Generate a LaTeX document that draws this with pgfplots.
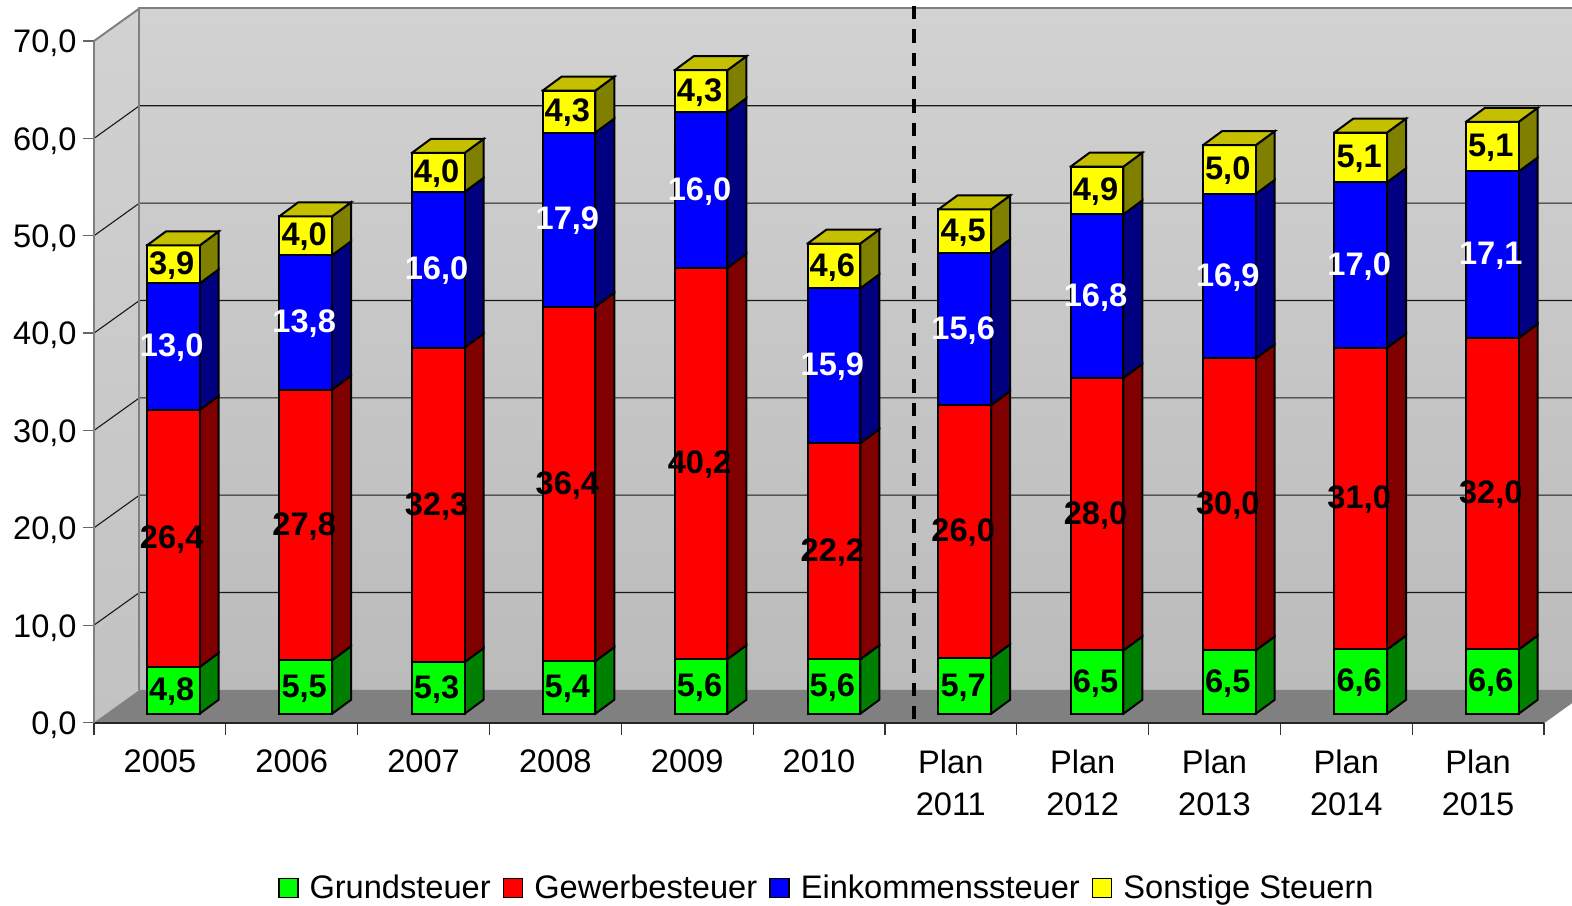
\documentclass[border=0pt]{standalone}
\usepackage{fontspec}
\setmainfont{Liberation Sans}
\usepackage{pgfplots}
\pgfplotsset{compat=1.18}
\definecolor{fgreen}{HTML}{00FF00}\definecolor{sgreen}{HTML}{008000}
\definecolor{fred}{HTML}{FF0000}\definecolor{sred}{HTML}{800000}
\definecolor{fblue}{HTML}{0000FF}\definecolor{sblue}{HTML}{000080}
\definecolor{fyel}{HTML}{FFFF00}\definecolor{syel}{HTML}{808000}\definecolor{tyel}{HTML}{C4C000}
\definecolor{wallT}{HTML}{D2D2D2}\definecolor{wallB}{HTML}{BBBBBB}
\definecolor{sideT}{HTML}{D2D2D2}\definecolor{sideB}{HTML}{C2C2C2}
\definecolor{floorc}{HTML}{808080}\definecolor{edgec}{HTML}{808080}
% geometry: 1 px = 0.5 pt; x unit 131.82 px per category, y unit 9.736 px per value
\newcommand\ddx{0.1442}  % bar depth in x units
\newcommand\ddy{1.438}   % bar depth in y units
\newcommand\bw{0.400}    % bar width in x units
\pgfplotsset{barline/.style={draw=black,line width=1pt,line join=miter,line cap=rect,forget plot}}
\tikzset{lbl/.style={font=\bfseries\fontsize{16.3}{18}\selectfont,anchor=center,inner sep=0pt,text height=11.6pt,text depth=0pt}}
% #1 left px, #2 base, #3 value, #4 front, #5 side, #6 label colour
\newcommand\seg[6]{%
  \pgfmathsetmacro\xa{(#1-94)/131.82}%
  \pgfmathsetmacro\xb{\xa+\bw}%
  \pgfmathsetmacro\xc{\xb+\ddx}%
  \pgfmathsetmacro\ya{#2}%
  \pgfmathsetmacro\yb{#2+#3}%
  \pgfmathsetmacro\yad{\ya+\ddy}%
  \pgfmathsetmacro\ybd{\yb+\ddy}%
  \addplot[barline,fill=#5] coordinates {(\xb,\ya) (\xc,\yad) (\xc,\ybd) (\xb,\yb) (\xb,\ya)};
  \addplot[barline,fill=#4] coordinates {(\xa,\ya) (\xb,\ya) (\xb,\yb) (\xa,\yb) (\xa,\ya)};
  \pgfmathsetmacro\lx{\xa+0.5*\bw-0.012}%
  \pgfmathsetmacro\ly{#2+0.5*#3+0.15}%
  \edef\tmp{\noexpand\node[lbl,text=#6] at (axis cs:\lx,\ly) {\noexpand\pgfmathprintnumber[fixed,fixed zerofill,precision=1,use comma,assume math mode=true]{#3}};}\tmp
}
% #1 left px, #2..#5 values
\newcommand\stackbar[5]{%
  \pgfmathsetmacro\ba{0.9}\pgfmathsetmacro\bb{\ba+#2}\pgfmathsetmacro\bc{\bb+#3}\pgfmathsetmacro\bd{\bc+#4}\pgfmathsetmacro\be{\bd+#5}%
  \edef\sa{\ba}\edef\sb{\bb}\edef\sc{\bc}\edef\sd{\bd}\edef\se{\be}%
  \seg{#1}{\sa}{#2}{fgreen}{sgreen}{black}%
  \seg{#1}{\sb}{#3}{fred}{sred}{black}%
  \seg{#1}{\sc}{#4}{fblue}{sblue}{white}%
  \seg{#1}{\sd}{#5}{fyel}{syel}{black}%
  \pgfmathsetmacro\xa{(#1-94)/131.82}\pgfmathsetmacro\xb{\xa+\bw}\pgfmathsetmacro\xc{\xb+\ddx}\pgfmathsetmacro\xd{\xa+\ddx}\pgfmathsetmacro\yt{\se+\ddy}%
  \addplot[barline,fill=tyel] coordinates {(\xa,\se) (\xb,\se) (\xc,\yt) (\xd,\yt) (\xa,\se)};
}
\begin{document}
\begin{tikzpicture}
\path[use as bounding box] (-47pt,-91.25pt) rectangle (739pt,361.25pt);
\begin{axis}[
  at={(0pt,0pt)},anchor=south west,
  scale only axis,width=725pt,height=340.75pt,
  xmin=0,xmax=11,ymin=0,ymax=70,
  clip=false,axis on top=true,
  axis x line=bottom,axis y line=left,
  axis line style={-},
  x axis line style={draw=black!85,line width=1pt},
  y axis line style={draw=edgec,line width=1pt},
  tick align=outside,
  major tick length=5.5pt,minor tick length=6pt,
  ytick={0,10,...,70},
  ytick style={draw=black!60,line width=0.6pt},
  xtick={0.5,1.5,...,10.5},
  major x tick style={draw=none},
  minor xtick={0,1,...,11},
  minor x tick style={draw=black!80,line width=0.6pt},
  xticklabels={2005,2006,2007,2008,2009,2010,{Plan\\2011},{Plan\\2012},{Plan\\2013},{Plan\\2014},{Plan\\2015}},
  xticklabel style={align=center,font=\fontsize{16.3}{21}\selectfont,anchor=north,inner sep=0pt,yshift=-8pt},
  yticklabel style={font=\fontsize{16.3}{18}\selectfont,anchor=east,inner sep=0pt,xshift=-3pt,yshift=-1.3pt,
    /pgf/number format/.cd,fixed,fixed zerofill,precision=1,use comma,assume math mode=true},
  legend columns=4,
  legend style={draw=none,fill=none,at={(axis cs:5.57,-17)},anchor=center,
    font=\fontsize{16.3}{18}\selectfont,inner sep=0pt,
    /tikz/every even column/.append style={column sep=3.5pt},
    /tikz/every odd column/.append style={column sep=3pt},
    nodes={inner sep=2.5pt}},
  legend image code/.code={\draw[#1,line width=0.8pt] (0pt,-4.75pt) rectangle (9.5pt,4.75pt);},
]
% walls and floor
\path[top color=sideT,bottom color=sideB] (axis cs:0,0) -- (axis cs:0.345,3.35) -- (axis cs:0.345,73.35) -- (axis cs:0,70) -- cycle;
\path[top color=wallT,bottom color=wallB] (axis cs:0.345,3.35) -- (axis cs:11.345,3.35) -- (axis cs:11.345,73.35) -- (axis cs:0.345,73.35) -- cycle;
\fill[floorc] (axis cs:0,0) -- (axis cs:11,0) -- (axis cs:11.345,3.35) -- (axis cs:0.345,3.35) -- cycle;
\pgfplotsinvokeforeach{10,20,30,40,50,60}{
  \draw[black!90,line width=0.55pt] (axis cs:0,#1) -- (axis cs:0.345,#1+3.35) -- (axis cs:11.345,#1+3.35);
}
\draw[edgec,line width=1pt] (axis cs:0.345,3.35) -- (axis cs:0.345,73.35) -- (axis cs:11.345,73.35);
\draw[edgec,line width=1pt] (axis cs:0,70) -- (axis cs:0.345,73.35);
\draw[edgec,line width=0.6pt] (axis cs:11,0) -- (axis cs:11.345,3.35);
\draw[black,line width=1.7pt,dash pattern=on 6.67pt off 5pt] (axis cs:6.22,73.6) -- (axis cs:6.22,0.4);
% bars: left edge in px, Grundsteuer, Gewerbesteuer, Einkommenssteuer, Sonstige Steuern
\stackbar{146.9}{4.8}{26.4}{13.0}{3.9}
\stackbar{279.4}{5.5}{27.8}{13.8}{4.0}
\stackbar{411.8}{5.3}{32.3}{16.0}{4.0}
\stackbar{542.6}{5.4}{36.4}{17.9}{4.3}
\stackbar{674.7}{5.6}{40.2}{16.0}{4.3}
\stackbar{807.6}{5.6}{22.2}{15.9}{4.6}
\stackbar{938.4}{5.7}{26.0}{15.6}{4.5}
\stackbar{1070.7}{6.5}{28.0}{16.8}{4.9}
\stackbar{1203.0}{6.5}{30.0}{16.9}{5.0}
\stackbar{1334.4}{6.6}{31.0}{17.0}{5.1}
\stackbar{1466.0}{6.6}{32.0}{17.1}{5.1}
\addlegendimage{fill=fgreen,draw=black}
\addlegendimage{fill=fred,draw=black}
\addlegendimage{fill=fblue,draw=black}
\addlegendimage{fill=fyel,draw=black}
\legend{Grundsteuer,Gewerbesteuer,Einkommenssteuer,Sonstige Steuern}
\end{axis}
\end{tikzpicture}
\end{document}
